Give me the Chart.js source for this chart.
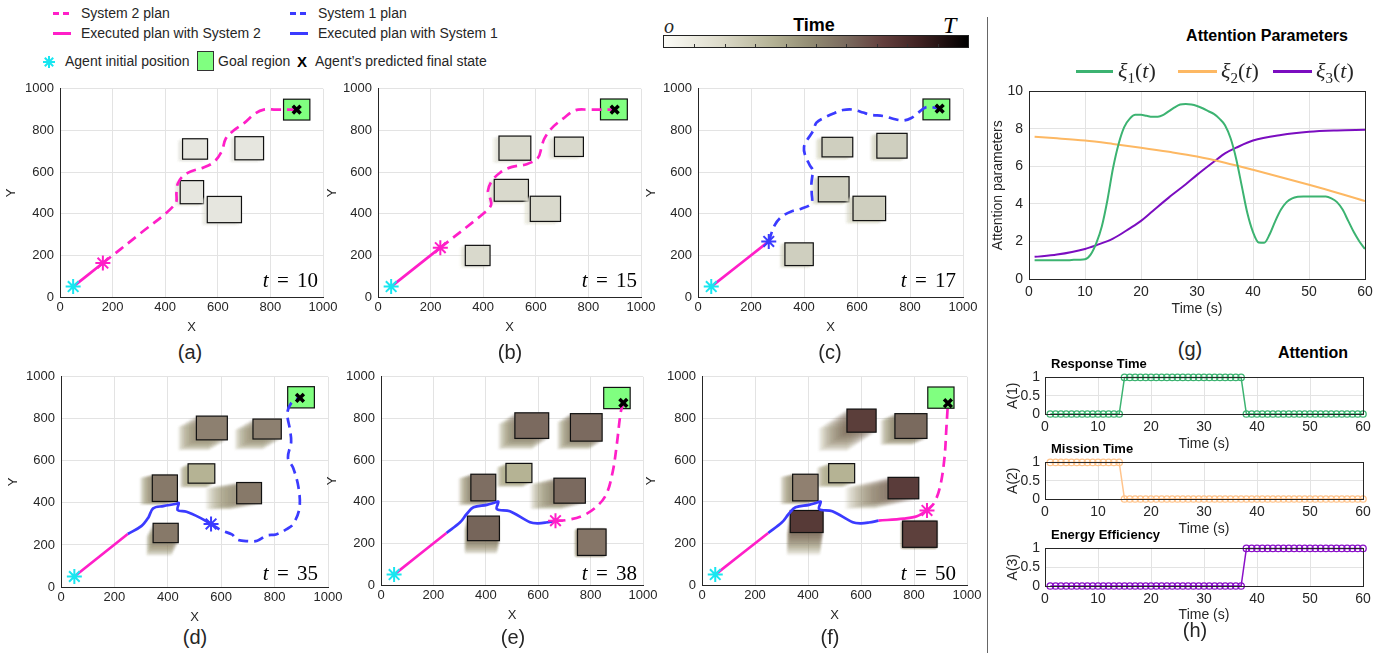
<!DOCTYPE html>
<html>
<head>
<meta charset="utf-8">
<title>Agent planning with attention</title>
<script src="https://cdn.jsdelivr.net/npm/chart.js@4.4.1/dist/chart.umd.min.js"></script>
<style>
  html, body { margin: 0; padding: 0; background: #fff; }
  #stage { position: relative; width: 1391px; height: 653px; overflow: hidden;
           font-family: "Liberation Sans", Arial, sans-serif; color: #262626; }
  #stage canvas { position: absolute; }
  .t { position: absolute; white-space: nowrap; line-height: 1; z-index: 2; }
  .c { transform: translateX(-50%); }
  .r { transform: translateX(-100%); }
  .serif { font-family: "Liberation Serif", "DejaVu Serif", serif; }
  .sw { position: absolute; z-index: 2; }
</style>
</head>
<body>
<div id="stage">
  <!-- shared legend -->
  <div class="sw" style="left:53px;top:12px;width:16px;height:3px;background:linear-gradient(to right,#ff1fc8 0 6px,transparent 6px 10px,#ff1fc8 10px 16px)"></div>
  <div class="t" style="left:81px;top:6px;font-size:14px">System 2 plan</div>
  <div class="sw" style="left:290px;top:12px;width:16px;height:3px;background:linear-gradient(to right,#3b3bff 0 6px,transparent 6px 10px,#3b3bff 10px 16px)"></div>
  <div class="t" style="left:318px;top:6px;font-size:14px">System 1 plan</div>
  <div class="sw" style="left:53px;top:32px;width:18px;height:3px;background:#ff1fc8"></div>
  <div class="t" style="left:81px;top:26px;font-size:14px">Executed plan with System 2</div>
  <div class="sw" style="left:290px;top:32px;width:18px;height:3px;background:#3b3bff"></div>
  <div class="t" style="left:318px;top:26px;font-size:14px">Executed plan with System 1</div>
  <svg class="sw" style="left:42px;top:55px" width="14" height="14" viewBox="-7 -7 14 14">
    <g stroke="#19e6f0" stroke-width="2"><line x1="-6" y1="0" x2="6" y2="0"/><line x1="0" y1="-6" x2="0" y2="6"/><line x1="-4.2" y1="-4.2" x2="4.2" y2="4.2"/><line x1="-4.2" y1="4.2" x2="4.2" y2="-4.2"/></g>
  </svg>
  <div class="t" style="left:65px;top:54px;font-size:14px">Agent initial position</div>
  <div class="sw" style="left:197px;top:51px;width:17px;height:20px;box-sizing:border-box;border:1px solid #333;background:#80ff80"></div>
  <div class="t" style="left:218px;top:54px;font-size:14px">Goal region</div>
  <div class="t" style="left:297px;top:54px;font-size:15px;font-weight:bold;color:#000">X</div>
  <div class="t" style="left:315px;top:54px;font-size:14px">Agent’s predicted final state</div>

  <!-- time colour bar -->
  <div class="t serif" style="left:664px;top:16px;font-size:20px;font-style:italic">o</div>
  <div class="t c" style="left:814px;top:16px;font-size:18px;font-weight:bold;color:#000">Time</div>
  <div class="t serif" style="left:943px;top:13px;font-size:24px;font-style:italic;color:#000">T</div>
  <div id="cbar" class="sw" style="left:663px;top:35px;width:306px;height:13px;box-sizing:border-box;border:1px solid #222"></div>

  <div class="sw" style="left:987px;top:17px;width:1px;height:636px;background:#666"></div>

  <!-- (g) / (h) titles -->
  <div class="t c" style="left:1267px;top:28px;font-size:16px;font-weight:bold;color:#000">Attention Parameters</div>
  <div class="sw" style="left:1076px;top:70px;width:37px;height:3px;background:#3cb371"></div>
  <div class="t serif" style="left:1118px;top:60px;font-size:22px"><i>ξ</i><span style="font-size:15px;position:relative;top:5px">1</span>(<i>t</i>)</div>
  <div class="sw" style="left:1178px;top:70px;width:39px;height:3px;background:#fdb863"></div>
  <div class="t serif" style="left:1221px;top:60px;font-size:22px"><i>ξ</i><span style="font-size:15px;position:relative;top:5px">2</span>(<i>t</i>)</div>
  <div class="sw" style="left:1273px;top:70px;width:39px;height:3px;background:#7b0dc0"></div>
  <div class="t serif" style="left:1316px;top:60px;font-size:22px"><i>ξ</i><span style="font-size:15px;position:relative;top:5px">3</span>(<i>t</i>)</div>
  <div class="t c" style="left:1190px;top:339px;font-size:20px">(g)</div>
  <div class="t c" style="left:1313px;top:345px;font-size:16px;font-weight:bold;color:#000">Attention</div>
  <div class="t" style="left:1051px;top:357px;font-size:13px;font-weight:bold;color:#000">Response Time</div>
  <div class="t" style="left:1051px;top:442px;font-size:13px;font-weight:bold;color:#000">Mission Time</div>
  <div class="t" style="left:1051px;top:528px;font-size:13px;font-weight:bold;color:#000">Energy Efficiency</div>
  <div class="t c" style="left:1195px;top:620px;font-size:20px">(h)</div>
</div>

<script>
// ---------- tick labels ----------
const mapTicks = [0, 200, 400, 600, 800, 1000];
const timeTicks = [0, 10, 20, 30, 40, 50, 60];
const paramTicks = [0, 2, 4, 6, 8, 10];
const attTicks = [0, 0.5, 1];
const snapTimes = [10, 15, 17, 35, 38, 50];

// ---------- map panels: obstacles [x0, x1, y0, y1], motion trails [dx, dy] ----------
const startPos = [50, 50];

const obsA = [[466, 561, 662, 760], [665, 774, 659, 770], [457, 546, 448, 559], [560, 690, 357, 483]];
const trailA = [[-20, -10], [-20, -10], [-20, -10], [-20, -12]];
const goalA = [850, 950, 850, 950];
const finalA = [900, 900];
const nowA = [163, 163];
const exec2A = [[50, 50], [163, 163]];
const planA = [[163, 163], [300, 300], [438, 446], [443, 505], [448, 545], [465, 578], [495, 602], [546, 622],
  [585, 648], [615, 700], [630, 760], [660, 800], [700, 835], [740, 880], [775, 900], [820, 900], [900, 900]];

const obsB = [[460, 581, 657, 773], [671, 781, 675, 768], [442, 572, 460, 565], [579, 694, 363, 484], [332, 426, 151, 248]];
const trailB = [[-25, -12], [-25, -12], [-25, -12], [-25, -14], [-20, -10]];
const goalB = [846, 948, 851, 951];
const finalB = [900, 900];
const nowB = [237, 237];
const exec2B = [[50, 50], [237, 237]];
const planB = [[237, 237], [400, 400], [430, 442], [425, 480], [418, 510], [432, 555], [465, 598], [510, 625],
  [565, 638], [608, 668], [622, 720], [632, 760], [660, 810], [705, 858], [750, 897], [800, 900], [900, 900]];

const obsC = [[468, 584, 673, 767], [675, 789, 667, 786], [454, 570, 457, 578], [585, 708, 367, 484], [328, 435, 151, 260]];
const trailC = [[-25, -12], [-25, -12], [-25, -12], [-28, -14], [-20, -10]];
const goalC = [849, 950, 851, 951];
const finalC = [912, 905];
const nowC = [267, 267];
const exec2C = [[50, 50], [267, 267]];
const planC = [[267, 267], [289, 344], [314, 384], [352, 411], [390, 424], [428, 450], [429, 500], [428, 545],
  [432, 585], [435, 605], [421, 635], [403, 686], [400, 720], [410, 750], [434, 797], [447, 837], [478, 862],
  [516, 884], [547, 898], [585, 900], [623, 886], [648, 876], [704, 868], [736, 856], [774, 848], [805, 860],
  [830, 884], [862, 912], [912, 905]];

const obsD = [[507, 623, 700, 813], [719, 825, 704, 799], [476, 576, 494, 586], [342, 436, 407, 533], [658, 751, 396, 497], [345, 439, 211, 303]];
const trailD = [[-68, -50], [-68, -50], [-30, -20], [-46, -14], [-115, -27], [-25, -62]];
const goalD = [849, 949, 852, 953];
const finalD = [895, 900];
const nowD = [562, 300];
const exec2D = [[50, 50], [250, 252]];
const exec1D = [[250, 252], [302, 291], [327, 330], [345, 374], [383, 385], [433, 396], [441, 400], [437, 366],
  [470, 358], [520, 330], [562, 300]];
const planD = [[562, 300], [600, 270], [640, 250], [660, 225], [700, 218], [735, 220], [770, 245], [805, 250],
  [845, 275], [870, 300], [893, 375], [890, 470], [870, 565], [850, 615], [862, 690], [858, 745], [848, 830],
  [868, 885], [895, 900]];

const obsE = [[511, 640, 704, 827], [723, 844, 691, 823], [477, 576, 492, 584], [343, 438, 404, 532], [660, 780, 393, 513], [330, 452, 213, 331], [750, 859, 142, 269]];
const trailE = [[-63, -53], [-50, -40], [-35, -20], [-47, -20], [-90, -28], [-10, -63], [-10, -5]];
const goalE = [850, 951, 847, 949];
const finalE = [925, 875];
const nowE = [666, 309];
const exec2E = [[50, 50], [250, 250]];
const exec1E = [[250, 250], [302, 301], [327, 341], [353, 373], [404, 385], [435, 396], [448, 400], [442, 365],
  [492, 354], [569, 301], [600, 296], [630, 300], [666, 309]];
const planE = [[666, 309], [710, 312], [770, 333], [820, 373], [860, 436], [885, 548], [900, 675], [915, 830], [925, 875]];

const obsF = [[547, 657, 734, 845], [728, 849, 704, 823], [478, 576, 491, 583], [342, 438, 404, 532], [702, 818, 414, 517], [333, 457, 252, 358], [757, 887, 181, 307]];
const trailF = [[-107, -91], [-55, -31], [-44, -20], [-46, -14], [-161, -48], [-12, -108], [-5, -5]];
const goalF = [852, 951, 849, 951];
const finalF = [928, 873];
const nowF = [849, 358];
const exec2F = [[50, 50], [250, 250]];
const exec2Fb = [[666, 309], [761, 319], [811, 330], [849, 358]];
const planF = [[849, 358], [875, 392], [898, 470], [915, 610], [922, 750], [928, 873]];

// ---------- attention parameters (g) ----------
const tSec = [1, 2, 3, 4, 5, 6, 7, 8, 9, 10, 11, 12, 13, 14, 15, 16, 17, 18, 19, 20,
  21, 22, 23, 24, 25, 26, 27, 28, 29, 30, 31, 32, 33, 34, 35, 36, 37, 38, 39, 40,
  41, 42, 43, 44, 45, 46, 47, 48, 49, 50, 51, 52, 53, 54, 55, 56, 57, 58, 59, 60];
const xi1 = [1.0, 1.0, 1.0, 1.0, 1.0, 1.0, 1.0, 1.02, 1.03, 1.05, 1.3, 1.9, 2.8, 4.2, 5.9, 7.2, 8.1, 8.55, 8.75, 8.75,
  8.7, 8.65, 8.65, 8.75, 8.95, 9.15, 9.3, 9.33, 9.3, 9.22, 9.1, 8.95, 8.8, 8.55, 8.2, 7.5, 6.4, 4.95, 3.5, 2.5,
  1.95, 1.93, 2.4, 3.1, 3.7, 4.1, 4.3, 4.38, 4.4, 4.4, 4.4, 4.4, 4.4, 4.3, 4.1, 3.7, 3.1, 2.5, 2.0, 1.6];
const xi2T = [1, 5, 10, 15, 20, 25, 30, 35, 40, 45, 50, 55, 60];
const xi2 = [7.58, 7.5, 7.38, 7.2, 7.0, 6.78, 6.53, 6.2, 5.82, 5.42, 5.02, 4.6, 4.15];
const xi3T = [1, 5, 10, 12, 15, 18, 20, 22, 25, 28, 30, 33, 35, 37, 40, 45, 50, 55, 60];
const xi3 = [1.18, 1.3, 1.6, 1.8, 2.15, 2.7, 3.1, 3.6, 4.35, 5.05, 5.55, 6.25, 6.7, 7.0, 7.38, 7.68, 7.85, 7.92, 7.95];

// ---------- attention flags (h) ----------
const att1 = [0, 0, 0, 0, 0, 0, 0, 0, 0, 0, 0, 0, 0, 0, 1, 1, 1, 1, 1, 1,
  1, 1, 1, 1, 1, 1, 1, 1, 1, 1, 1, 1, 1, 1, 1, 1, 1, 0, 0, 0,
  0, 0, 0, 0, 0, 0, 0, 0, 0, 0, 0, 0, 0, 0, 0, 0, 0, 0, 0, 0];
const att2 = [1, 1, 1, 1, 1, 1, 1, 1, 1, 1, 1, 1, 1, 1, 0, 0, 0, 0, 0, 0,
  0, 0, 0, 0, 0, 0, 0, 0, 0, 0, 0, 0, 0, 0, 0, 0, 0, 0, 0, 0,
  0, 0, 0, 0, 0, 0, 0, 0, 0, 0, 0, 0, 0, 0, 0, 0, 0, 0, 0, 0];
const att3 = [0, 0, 0, 0, 0, 0, 0, 0, 0, 0, 0, 0, 0, 0, 0, 0, 0, 0, 0, 0,
  0, 0, 0, 0, 0, 0, 0, 0, 0, 0, 0, 0, 0, 0, 0, 0, 0, 1, 1, 1,
  1, 1, 1, 1, 1, 1, 1, 1, 1, 1, 1, 1, 1, 1, 1, 1, 1, 1, 1, 1];

// colour bar stops (fraction, colour)
const barStops = [[0, '#fbfbf7'], [0.18, '#dedccc'], [0.36, '#b3b194'], [0.48, '#938d74'], [0.6, '#7a6a5e'],
  [0.72, '#633f3d'], [0.84, '#3f2222'], [0.93, '#1c0e0e'], [1, '#000000']];

// ---------- styles ----------
const MAG = '#ff1fc8', BLUE = '#3b3bff', CYAN = '#19e6f0', GOAL = '#80ff80';
const GREEN = '#3cb371', ORANGE = '#fdb863', PURPLE = '#7b0dc0';
const ORANGE_H = '#ffc48c', PURPLE_H = '#8a10c8';
const GRID = '#e3e3e3', INK = '#262626';

Chart.defaults.font.family = "'Liberation Sans', Arial, sans-serif";
Chart.defaults.color = INK;

const cbar = document.getElementById('cbar');
cbar.style.background = 'linear-gradient(to right,' + barStops.map(s => s[1] + ' ' + (s[0] * 100) + '%').join(',') + ')';
for (let i = 1; i < 10; i++) {
  const tk = document.createElement('div');
  tk.style.cssText = `position:absolute;left:${i * 30.4}px;bottom:0;width:1px;height:3px;background:#333`;
  cbar.appendChild(tk);
}

function hexRgb(h) {
  return [parseInt(h.slice(1, 3), 16), parseInt(h.slice(3, 5), 16), parseInt(h.slice(5, 7), 16)];
}
function mix(a, b, f, alpha) {
  const A = hexRgb(a), B = hexRgb(b);
  const c = A.map((v, i) => Math.round(v + (B[i] - v) * f));
  return `rgba(${c[0]},${c[1]},${c[2]},${alpha})`;
}

// obstacles + goal region drawn in data units through the chart scales
const rectPlugin = {
  id: 'rects',
  beforeDatasetsDraw(chart, args, opts) {
    if (!opts.boxes) return;
    const { ctx, chartArea: ca, scales: { x, y } } = chart;
    const px = v => x.getPixelForValue(v), py = v => y.getPixelForValue(v);
    ctx.save();
    ctx.beginPath();
    ctx.rect(ca.left, ca.top, ca.width, ca.height);
    ctx.clip();
    opts.boxes.forEach((b, i) => {
      const col = opts.tints[i] || opts.tints[0];
      const tr = opts.trails[i] || [0, 0];
      const steps = 16;
      ctx.filter = 'blur(1.2px)';
      for (let k = steps; k >= 1; k--) {
        const f = k / steps;
        ctx.fillStyle = mix(opts.ghost, col, (1 - f) * 0.75, opts.ghostAlpha);
        const l = px(b[0] + tr[0] * f), r = px(b[1] + tr[0] * f);
        const t = py(b[3] + tr[1] * f), bt = py(b[2] + tr[1] * f);
        ctx.fillRect(l, t, r - l, bt - t);
      }
      ctx.filter = 'none';
      const l = px(b[0]), r = px(b[1]), t = py(b[3]), bt = py(b[2]);
      ctx.fillStyle = col;
      ctx.fillRect(l, t, r - l, bt - t);
      ctx.strokeStyle = '#111';
      ctx.lineWidth = 1.2;
      ctx.strokeRect(l, t, r - l, bt - t);
    });
    const g = opts.goal;
    ctx.fillStyle = GOAL;
    ctx.fillRect(px(g[0]), py(g[3]), px(g[1]) - px(g[0]), py(g[2]) - py(g[3]));
    ctx.strokeStyle = '#111';
    ctx.lineWidth = 1.2;
    ctx.strokeRect(px(g[0]), py(g[3]), px(g[1]) - px(g[0]), py(g[2]) - py(g[3]));
    ctx.restore();
  }
};

// closed axes box for (g) and (h)
const framePlugin = {
  id: 'frame',
  afterDatasetsDraw(chart, args, opts) {
    if (!opts.on) return;
    const { ctx, chartArea: ca } = chart;
    ctx.save();
    ctx.strokeStyle = INK;
    ctx.lineWidth = 1;
    ctx.strokeRect(Math.round(ca.left) + 0.5, Math.round(ca.top) + 0.5, Math.round(ca.width), Math.round(ca.height));
    ctx.restore();
  }
};
Chart.register(rectPlugin, framePlugin);

const stage = document.getElementById('stage');

// canvas placed so that the plot area lands on the given page rectangle
function makeCanvas(plot, yTitleX, xTitleY, fs) {
  const lh = fs * 1.2;
  const left = Math.round(yTitleX - lh / 2);
  const top = plot[1] - 12;
  const right = plot[2] + 22;
  const bottom = Math.round(xTitleY + lh / 2);
  const cv = document.createElement('canvas');
  cv.width = right - left;
  cv.height = bottom - top;
  cv.style.left = left + 'px';
  cv.style.top = top + 'px';
  stage.appendChild(cv);
  return { cv, padL: plot[0] - left, padT: 12, padR: 22, padB: bottom - plot[3] };
}

function axis(g, which, o) {
  const horiz = which === 'x';
  return {
    type: 'linear', min: o.min, max: o.max,
    afterBuildTicks: s => { s.ticks = o.ticks.map(v => ({ value: v })); },
    ticks: { font: { size: o.fs }, color: INK, padding: o.pad, autoSkip: false, maxRotation: 0,
      callback: v => String(v) },
    grid: { color: GRID, drawTicks: false },
    border: { color: INK },
    title: { display: true, text: o.title, font: { size: o.fs, lineHeight: 1.2 }, color: INK, padding: 0 },
    afterFit: s => { if (horiz) s.height = g.padB; else s.width = g.padL; }
  };
}

function baseOptions(g, xo, yo, plugins) {
  return {
    responsive: false, animation: false, devicePixelRatio: 1, events: [],
    layout: { padding: { top: g.padT, right: g.padR, left: 0, bottom: 0 } },
    plugins: Object.assign({ legend: { display: false }, tooltip: { enabled: false } }, plugins),
    scales: { x: axis(g, 'x', xo), y: axis(g, 'y', yo) }
  };
}

const xy = pts => pts.map(p => ({ x: p[0], y: p[1] }));

function marker(p, style, color, r, w, order) {
  return { data: xy([p]), showLine: false, pointStyle: style, pointRadius: r, pointBorderWidth: w,
    pointBorderColor: color, pointBackgroundColor: color, borderColor: color, clip: false, order };
}
function path(pts, color, dashed) {
  return { data: xy(pts), showLine: true, borderColor: color, borderWidth: 2.7, pointRadius: 0,
    borderDash: dashed ? [10, 6] : [], tension: 0.35, fill: false, order: dashed ? 5 : 4 };
}

const olive = '#aaa686', pale = '#e4e3d8';
const panels = [
  { plot: [60, 87, 323, 297], yT: 12, xT: 327, lab: [190, 342], tl: [318, 270],
    obs: obsA, trail: trailA, tints: ['#e6e6df'], ghost: pale, ga: 0.14, goal: goalA, fin: finalA, now: nowA, nowC: MAG,
    lines: [[exec2A, MAG, false], [planA, MAG, true]] },
  { plot: [378, 87, 641, 297], yT: 333, xT: 327, lab: [510, 342], tl: [637, 270],
    obs: obsB, trail: trailB, tints: ['#d9d9cc'], ghost: pale, ga: 0.14, goal: goalB, fin: finalB, now: nowB, nowC: MAG,
    lines: [[exec2B, MAG, false], [planB, MAG, true]] },
  { plot: [698, 87, 963, 297], yT: 652, xT: 327, lab: [830, 342], tl: [956, 270],
    obs: obsC, trail: trailC, tints: ['#cfcfbf'], ghost: '#d8d7c6', ga: 0.15, goal: goalC, fin: finalC, now: nowC, nowC: BLUE,
    lines: [[exec2C, MAG, false], [planC, BLUE, true]] },
  { plot: [61, 375, 328, 587], yT: 14, xT: 617, lab: [195, 627], tl: [318, 563],
    obs: obsD, trail: trailD, tints: ['#8d8070', '#8d8070', '#b5b394', '#877969', '#877969', '#877969'],
    ghost: olive, ga: 0.17, goal: goalD, fin: finalD, now: nowD, nowC: BLUE,
    lines: [[exec2D, MAG, false], [exec1D, BLUE, false], [planD, BLUE, true]] },
  { plot: [381, 375, 643, 585], yT: 333, xT: 615, lab: [513, 627], tl: [637, 563],
    obs: obsE, trail: trailE, tints: ['#7b6a5f', '#7b6a5f', '#b5b394', '#7e6e62', '#7b6a5f', '#76655a', '#857567'],
    ghost: olive, ga: 0.17, goal: goalE, fin: finalE, now: nowE, nowC: MAG,
    lines: [[exec2E, MAG, false], [exec1E, BLUE, false], [planE, MAG, true]] },
  { plot: [702, 375, 967, 585], yT: 652, xT: 615, lab: [830, 627], tl: [956, 563],
    obs: obsF, trail: trailF, tints: ['#5b3e3a', '#7a6a5e', '#b5b394', '#908070', '#5a3c3a', '#573a37', '#5d403c'],
    ghost: olive, ga: 0.17, goal: goalF, fin: finalF, now: nowF, nowC: MAG,
    lines: [[exec2F, MAG, false], [exec1E, BLUE, false], [exec2Fb, MAG, false], [planF, MAG, true]] }
];

panels.forEach((p, i) => {
  const g = makeCanvas(p.plot, p.yT, p.xT, 13);
  const ds = [
    marker(p.fin, 'crossRot', '#000', 5.5, 3.5, 0),
    marker(p.now, 'star', p.nowC, 7.5, 2, 1),
    marker(startPos, 'star', CYAN, 7.5, 2, 2)
  ];
  p.lines.forEach(l => ds.push(path(l[0], l[1], l[2])));
  new Chart(g.cv, {
    type: 'scatter',
    data: { datasets: ds },
    options: baseOptions(g,
      { min: 0, max: 1000, ticks: mapTicks, fs: 13, pad: 3, title: 'X' },
      { min: 0, max: 1000, ticks: mapTicks, fs: 13, pad: 6, title: 'Y' },
      { rects: { boxes: p.obs, trails: p.trail, tints: p.tints, ghost: p.ghost, ghostAlpha: p.ga, goal: p.goal } })
  });
  const lab = document.createElement('div');
  lab.className = 't c';
  lab.style.cssText = `left:${p.lab[0]}px;top:${p.lab[1]}px;font-size:20px`;
  lab.textContent = '(' + 'abcdef'[i] + ')';
  stage.appendChild(lab);
  const tl = document.createElement('div');
  tl.className = 't r serif';
  tl.style.cssText = `left:${p.tl[0]}px;top:${p.tl[1]}px;font-size:21px;color:#000;word-spacing:3px`;
  tl.innerHTML = '<i>t</i> = ' + snapTimes[i];
  stage.appendChild(tl);
});

// (g) attention parameters
{
  const g = makeCanvas([1029, 89, 1365, 279], 998, 310, 14);
  const smooth = (pts, color) => ({ data: pts, showLine: true, borderColor: color, borderWidth: 2,
    pointRadius: 0, cubicInterpolationMode: 'monotone', fill: false });
  new Chart(g.cv, {
    type: 'scatter',
    data: { datasets: [
      smooth(tSec.map((t, i) => ({ x: t, y: xi1[i] })), GREEN),
      smooth(xi2T.map((t, i) => ({ x: t, y: xi2[i] })), ORANGE),
      smooth(xi3T.map((t, i) => ({ x: t, y: xi3[i] })), PURPLE)
    ] },
    options: baseOptions(g,
      { min: 0, max: 60, ticks: timeTicks, fs: 14, pad: 5, title: 'Time (s)' },
      { min: 0, max: 10, ticks: paramTicks, fs: 14, pad: 6, title: 'Attention parameters' },
      { frame: { on: true } })
  });
}

// (h) attention flags
const flagRows = [
  { plot: [1045, 376, 1363, 414], xT: 445, vals: att1, color: GREEN, title: 'A(1)' },
  { plot: [1045, 461, 1363, 499], xT: 530, vals: att2, color: ORANGE_H, title: 'A(2)' },
  { plot: [1045, 547, 1363, 586], xT: 616, vals: att3, color: PURPLE_H, title: 'A(3)' }
];
flagRows.forEach(r => {
  const g = makeCanvas(r.plot, 1013, r.xT, 14);
  new Chart(g.cv, {
    type: 'scatter',
    data: { datasets: [{
      data: tSec.map((t, i) => ({ x: t, y: r.vals[i] })), showLine: true, borderColor: r.color, borderWidth: 1.5,
      pointStyle: 'circle', pointRadius: 3.2, pointBorderWidth: 1.3, pointBorderColor: r.color,
      pointBackgroundColor: 'rgba(255,255,255,0)', clip: false, tension: 0
    }] },
    options: baseOptions(g,
      { min: 0, max: 60, ticks: timeTicks, fs: 14, pad: 5, title: 'Time (s)' },
      { min: 0, max: 1, ticks: attTicks, fs: 14, pad: 5, title: r.title },
      { frame: { on: true } })
  });
});
</script>
</body>
</html>
